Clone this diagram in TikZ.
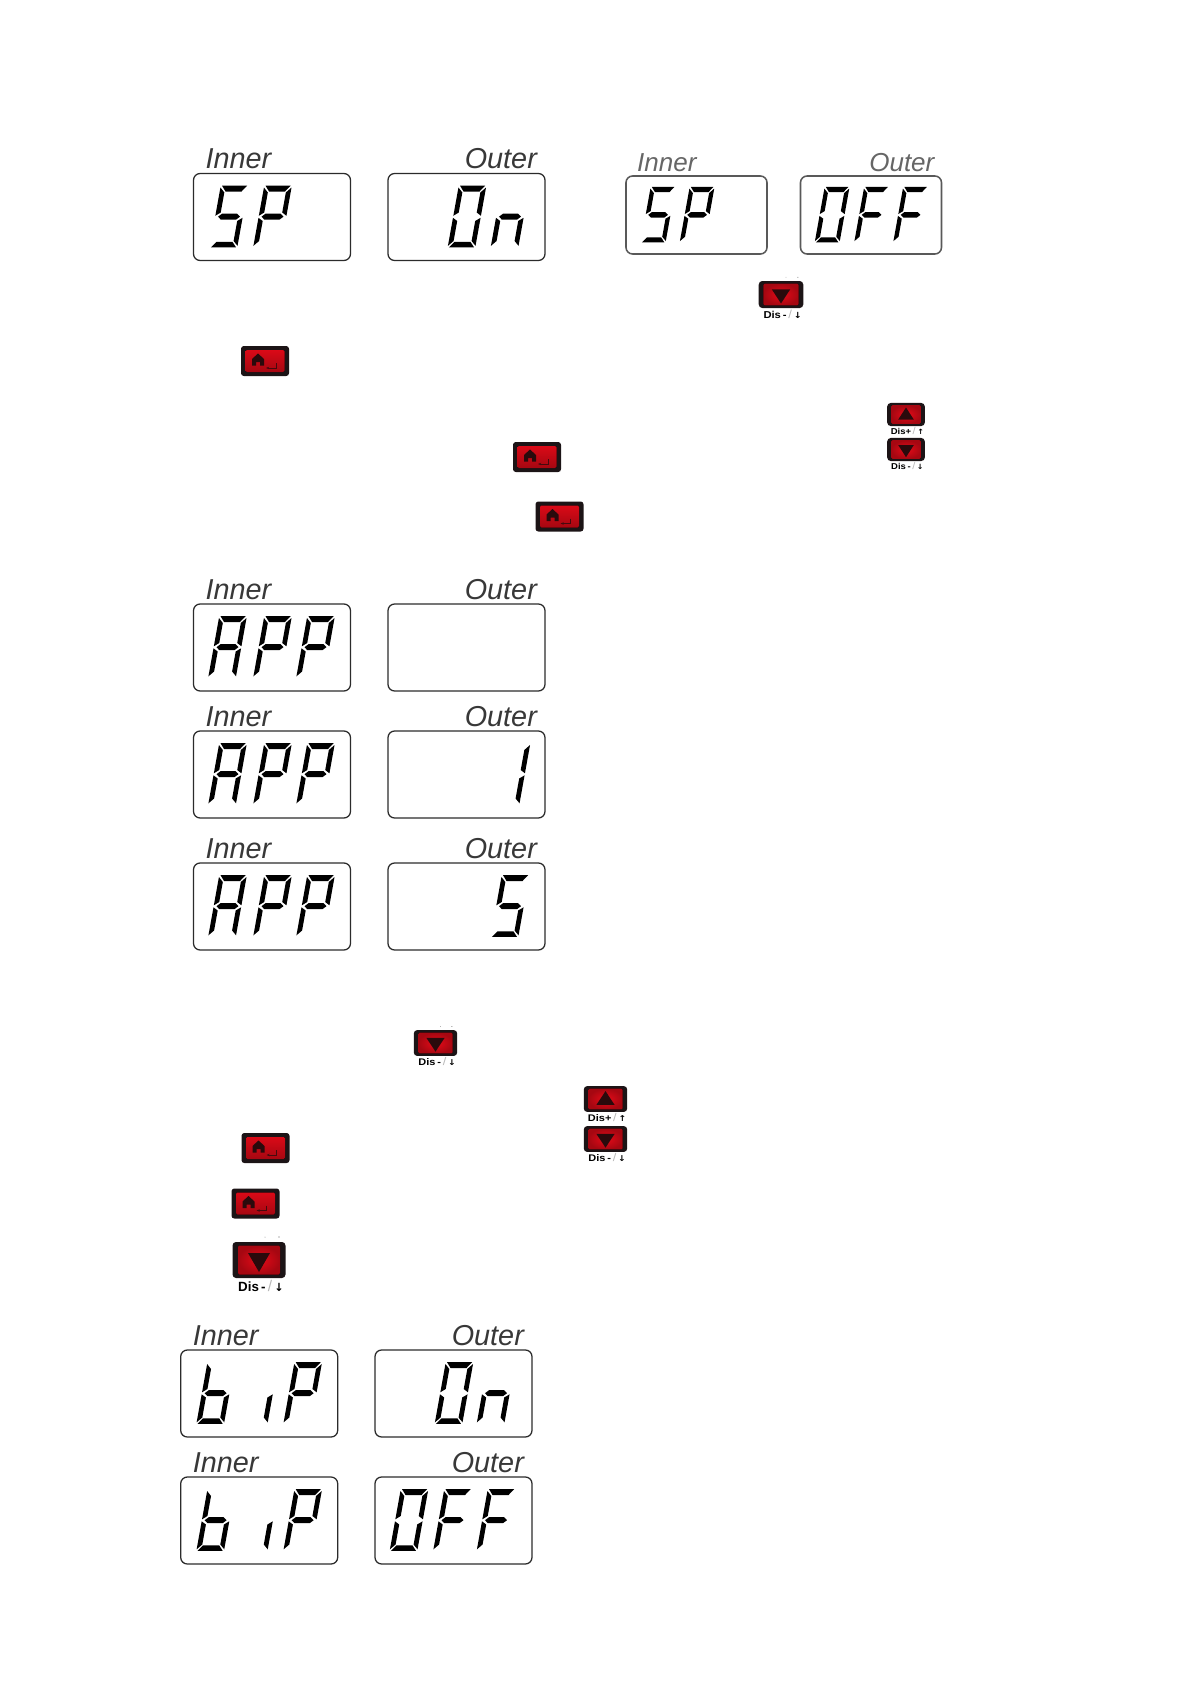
\documentclass[tikz,border=0pt]{standalone}
\usepackage{fontspec}
\setmainfont{Liberation Sans}
\newfontfamily\symfont{DejaVu Sans}
\usetikzlibrary{arrows.meta, calc}

\definecolor{keydark}{HTML}{1C1416}
\definecolor{keyred}{HTML}{E60A18}
\definecolor{keyglyph}{HTML}{2A0A0C}
\definecolor{lcdline}{HTML}{2B2B2B}

% one seven-segment character: [scale]{box}{offset in box}{segments}
\newcommand{\lcdchar}[4][1]{%
  \begin{scope}[shift={($(#2.north west)+(#3+11*#1,12.5*#1)$)}, scale=#1, xslant=0.18]
    \foreach \s in {#4} {\fill[segment, seg \s];}
  \end{scope}%
}

\begin{document}
\begin{tikzpicture}[
  x=0.05cm, y=-0.05cm,
  lcdbox/.style={draw=lcdline, line width=1.8pt, rounded corners=0.33cm, anchor=north west, outer sep=0pt, minimum width=7.85cm, minimum height=4.35cm},
  lcdsmall/.style={lcdbox, draw=black!65, line width=2.2pt, minimum width=7.05cm, minimum height=3.9cm},
  innerlabel/.style={font=\fontsize{41}{41}\selectfont\itshape, text=black!78, anchor=base west, inner sep=0pt, xshift=0.6cm, yshift=0.23cm},
  outerlabel/.style={font=\fontsize{41}{41}\selectfont\itshape, text=black!78, anchor=base east, inner sep=0pt, xshift=-0.4cm, yshift=0.23cm},
  innersmall/.style={innerlabel, font=\fontsize{37}{37}\selectfont\itshape, text=black!60, xshift=-0.05cm},
  outersmall/.style={outerlabel, font=\fontsize{37}{37}\selectfont\itshape, text=black!60, xshift=0.05cm},
  segment/.style={fill=black},
  seg a/.style={insert path={(1,-0.3)--(26,-0.3)--(21.5,5.5)--(5.5,5.5)--cycle}},
  seg b/.style={insert path={(27.3,1.5)--(22.5,6.5)--(22.5,26.5)--(27.3,29.8)--cycle}},
  seg c/.style={insert path={(27.3,31.8)--(22.5,35)--(22.5,55)--(27.3,59.8)--cycle}},
  seg d/.style={insert path={(1,61.3)--(26,61.3)--(21.5,55.8)--(5.5,55.8)--cycle}},
  seg e/.style={insert path={(-0.3,31.8)--(4.5,35)--(4.5,55)--(-0.3,59.8)--cycle}},
  seg f/.style={insert path={(-0.3,1.5)--(4.5,6.5)--(4.5,26.5)--(-0.3,29.8)--cycle}},
  seg g/.style={insert path={(2.5,30.7)--(6,27.7)--(21,27.7)--(24.5,30.7)--(21,33.7)--(6,33.7)--cycle}},
  keycap/.style={font=\fontsize{19}{19}\selectfont\bfseries, transform shape, inner sep=0pt},
  pics/homekey/.style={code={
    \fill[keydark, rounded corners=4pt] (-24,-15) rectangle (24,15);
    \fill[top color=keyred!95!black, bottom color=keyred!72!black, rounded corners=2pt] (-19.5,-11) rectangle (19.5,11);
    \fill[keyglyph] (-13,-2)--(-7,-7.5)--(-1,-2)--(-1,4.5)--(-5,4.5)--(-5,1)--(-9,1)--(-9,4.5)--(-13,4.5)--cycle;
    \draw[keyglyph!85!keyred, line width=1.3pt, -{Stealth[length=1.6mm]}] (11,2)--(11,7)--(1,7);
  }},
  pics/downkey/.style={code={
    \fill[keydark, rounded corners=5pt] (-26.5,-18) rectangle (26.5,18);
    \fill[inner color=keyred, outer color=keyred!72!black, rounded corners=2pt] (-21,-14.5) rectangle (21,14.5);
    \fill[keyglyph] (-11,-7)--(11,-7)--(0,12)--cycle;
    \node[keycap] (-cap) at (2,26) {Dis\,-\,{\color{black!28}\mdseries\fontsize{22}{22}\selectfont/}\,{\symfont\fontsize{16}{16}\selectfont ↓}};
  }},
  pics/upkey/.style={code={
    \fill[keydark, rounded corners=5pt] (-26.5,-18) rectangle (26.5,18);
    \fill[inner color=keyred, outer color=keyred!72!black, rounded corners=2pt] (-21,-14.5) rectangle (21,14.5);
    \fill[keyglyph] (-11,8)--(11,8)--(0,-11)--cycle;
    \node[keycap] (-cap) at (2,26) {Dis+\,{\color{black!28}\mdseries\fontsize{22}{22}\selectfont/}\,{\symfont\fontsize{16}{16}\selectfont ↑}};
  }},
  pics/keyspecks/.style={code={
    \fill[black!45] (6,-23) circle (0.5);
    \fill[black!65] (20,-23) circle (0.6);
  }}
]
\useasboundingbox (0,0) rectangle (1191,1684);

% first pair
\node[lcdbox] (spin) at (193.5,173.5) {};
\node[lcdbox] (spout) at (388,173.5) {};
\node[innerlabel] (spinlbl) at (spin.north west) {Inner};
\node[outerlabel] (spoutlbl) at (spout.north east) {Outer};
\lcdchar{spin}{16.5}{a,f,g,c,d}
\lcdchar{spin}{60}{a,b,e,f,g}
\lcdchar{spout}{60}{a,b,c,d,e,f}
\lcdchar{spout}{103}{c,e,g}

% pair at the upper right
\node[lcdsmall] (offin) at (626,176) {};
\node[lcdsmall] (offout) at (800.5,176) {};
\node[innersmall] (offinlbl) at (offin.north west) {Inner};
\node[outersmall] (offoutlbl) at (offout.north east) {Outer};
\lcdchar[0.9]{offin}{15}{a,f,g,c,d}
\lcdchar[0.9]{offin}{54}{a,b,e,f,g}
\lcdchar[0.9]{offout}{14.5}{a,b,c,d,e,f}
\lcdchar[0.9]{offout}{54}{a,e,f,g}
\lcdchar[0.9]{offout}{93}{a,e,f,g}

% app rows
\node[lcdbox] (appa) at (193.5,604) {};
\node[lcdbox] (appaout) at (388,604) {};
\node[lcdbox] (appb) at (193.5,731) {};
\node[lcdbox] (appbout) at (388,731) {};
\node[lcdbox] (appc) at (193.5,863) {};
\node[lcdbox] (appcout) at (388,863) {};
\node[innerlabel] (appalbl) at (appa.north west) {Inner};
\node[outerlabel] (appaoutlbl) at (appaout.north east) {Outer};
\node[innerlabel] (appblbl) at (appb.north west) {Inner};
\node[outerlabel] (appboutlbl) at (appbout.north east) {Outer};
\node[innerlabel] (appclbl) at (appc.north west) {Inner};
\node[outerlabel] (appcoutlbl) at (appcout.north east) {Outer};
\foreach \row in {appa,appb,appc} {
  \lcdchar{\row}{15}{a,b,c,e,f,g}
  \lcdchar{\row}{60}{a,b,e,f,g}
  \lcdchar{\row}{103}{a,b,e,f,g}
}
\lcdchar{appbout}{104}{b,c}
\lcdchar{appcout}{103}{a,f,g,c,d}

% bip rows
\node[lcdbox] (bipa) at (180.7,1350) {};
\node[lcdbox] (bipaout) at (375,1350) {};
\node[lcdbox] (bipb) at (180.7,1477) {};
\node[lcdbox] (bipbout) at (375,1477) {};
\node[innerlabel] (bipalbl) at (bipa.north west) {Inner};
\node[outerlabel] (bipaoutlbl) at (bipaout.north east) {Outer};
\node[innerlabel] (bipblbl) at (bipb.north west) {Inner};
\node[outerlabel] (bipboutlbl) at (bipbout.north east) {Outer};
\foreach \row in {bipa,bipb} {
  \lcdchar{\row}{16}{c,d,e,f,g}
  \lcdchar{\row}{59.5}{c}
  \lcdchar{\row}{103}{a,b,e,f,g}
}
\lcdchar{bipaout}{60}{a,b,c,d,e,f}
\lcdchar{bipaout}{102}{c,e,g}
\lcdchar{bipbout}{15}{a,b,c,d,e,f}
\lcdchar{bipbout}{58.5}{a,e,f,g}
\lcdchar{bipbout}{102}{a,e,f,g}

% keys
\pic (homea) at (265,361) {homekey};
\pic (homeb) at (537,457) {homekey};
\pic (homec) at (559.5,516.5) {homekey};
\pic (homed) at (265.5,1148) {homekey};
\pic (homee) at (255.5,1203.5) {homekey};

\pic[xscale=0.84, yscale=0.75] (downa) at (781,294.5) {downkey};
\pic[xscale=0.84, yscale=0.75] at (781,294.5) {keyspecks};
\pic[xscale=0.71, yscale=0.64] (upb) at (906,414.5) {upkey};
\pic[xscale=0.71, yscale=0.64] (downb) at (906,449.5) {downkey};
\pic[xscale=0.82, yscale=0.72] (downc) at (435.5,1043) {downkey};
\pic[xscale=0.82, yscale=0.72] at (435.5,1043) {keyspecks};
\pic[xscale=0.82, yscale=0.72] (upd) at (605.5,1099) {upkey};
\pic[xscale=0.82, yscale=0.72] (downd) at (605.5,1139) {downkey};
\pic (downe) at (259,1260) {downkey};
\pic at (259,1260) {keyspecks};

\end{tikzpicture}
\end{document}
